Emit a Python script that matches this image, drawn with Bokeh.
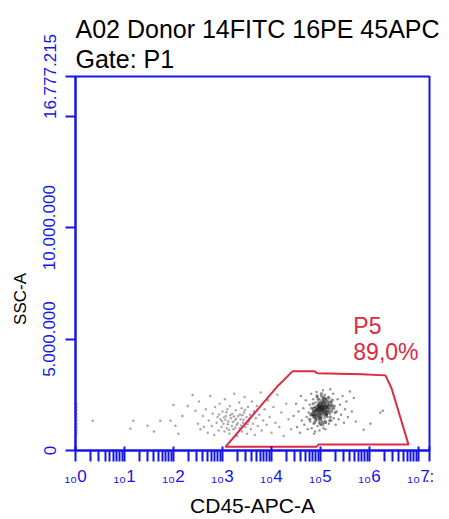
from bokeh.plotting import figure
from bokeh.models import FixedTicker, Label, Range1d, Title
from bokeh.embed import file_html
from bokeh.resources import INLINE

# ---------------- texts ----------------
title_line1 = "A02 Donor 14FITC 16PE 45APC"
title_line2 = "Gate: P1"
x_label = "CD45-APC-A"
y_label = "SSC-A"
gate_name = "P5"
gate_pct = "89,0%"

# ---------------- axes ----------------
x_min, x_max = 1, 16777215
y_min, y_max = 0, 16777215
y_tick_values = [0, 5000000, 10000000, 15000000, 16777215]
y_tick_labels = ["0", "5.000.000", "10.000.000", "", "16.777.215"]
x_tick_values = [1, 10, 100, 1000, 10000, 100000, 1000000, 10000000, 16777215]
x_tick_labels = ["\u2081\u20800", "\u2081\u20801", "\u2081\u20802", "\u2081\u20803", "\u2081\u20804",
                 "\u2081\u20805", "\u2081\u20806", "\u2081\u20807", ".:"]

# ---------------- gate P5 polygon ----------------
gate_cd45 = [1150, 13900, 26800, 75400, 86900, 687000, 2120000, 2810000, 6250000, 91000, 82800]
gate_ssc = [164000, 2930000, 3550000, 3550000, 3460000, 3420000, 3370000, 2800000, 266000, 266000, 164000]

# ---------------- events (CD45 in decades, SSC in millions) ----------------
axis_dec = [0.02] * 10
axis_ssc = [0.75, 0.9, 1.05, 1.2, 1.35, 1.5, 1.65, 1.8, 1.95, 2.1]

far_dec = [0.35, 1.12, 1.18, 1.47, 1.73, 1.94, 2.04, 2.00, 2.29, 2.39, 2.18, 1.60, 2.10]
far_ssc = [1.33, 0.98, 1.33, 1.11, 1.33, 1.33, 1.11, 2.04, 2.00, 2.49, 1.55, 0.85, 0.75]

left_dec = [2.45, 2.50, 2.55, 2.52, 2.60, 2.62, 2.66, 2.70, 2.72, 2.75, 2.78, 2.80, 2.83, 2.85, 2.88,
            2.90, 2.92, 2.94, 2.96, 2.98, 3.00, 3.02, 3.04, 3.05, 3.07, 3.09, 3.10, 3.12, 3.14, 3.15,
            3.17, 3.19, 3.20, 3.22, 3.24, 3.25, 3.27, 3.29, 3.30, 3.32, 3.34, 3.35, 3.37, 3.39, 3.40,
            3.42, 3.44, 3.45, 3.47, 3.49, 3.50, 3.52, 3.54, 3.56, 3.58, 3.60, 3.62, 3.64, 3.66, 3.68,
            3.70, 3.72, 3.75, 3.78, 3.80, 3.83, 3.86, 3.90, 3.93, 3.96, 4.00, 4.04, 4.08, 4.12, 4.16,
            4.20, 4.25, 4.30, 4.35, 4.40,
            2.93, 2.99, 3.03, 3.08, 3.11, 3.16, 3.21, 3.23, 3.28, 3.31, 3.36, 3.38, 3.43, 3.46, 3.51,
            3.55, 3.13, 3.26, 3.41, 3.06]
left_ssc = [1.78, 1.20, 0.95, 2.20, 1.55, 1.05, 1.85, 0.80, 1.35, 2.45, 1.10, 1.65, 0.70, 1.95, 1.25,
            1.50, 0.90, 2.10, 1.40, 1.05, 1.75, 1.20, 0.85, 2.30, 1.55, 1.00, 1.85, 1.30, 0.75, 2.00,
            1.45, 1.10, 1.65, 0.95, 2.55, 1.35, 1.80, 1.15, 0.65, 1.55, 2.15, 1.00, 1.40, 1.90, 0.85,
            1.25, 1.70, 2.40, 1.05, 1.50, 0.75, 1.95, 1.30, 1.60, 0.95, 2.20, 1.20, 1.75, 0.70, 1.45,
            2.00, 1.10, 1.60, 2.60, 0.90, 1.35, 1.85, 1.15, 2.25, 1.50, 0.80, 1.95, 1.25, 2.50, 1.05,
            1.70, 0.65, 2.10, 1.40, 0.95,
            1.62, 1.32, 1.48, 1.72, 1.18, 1.58, 1.28, 1.52, 1.42, 1.22, 1.62, 1.12, 1.38, 1.82, 1.18,
            1.42, 0.92, 1.02, 1.58, 1.38]

halo_dec = [4.45, 4.50, 4.52, 4.55, 4.58, 4.60, 4.62, 4.65, 4.67, 4.70, 4.72, 4.74, 4.76, 4.78, 4.79,
            4.81, 4.82, 4.84, 4.85, 4.86, 4.88, 4.89, 4.90, 4.91, 4.93, 4.94, 4.95, 4.97, 4.98, 5.00,
            5.01, 5.03, 5.05, 5.06, 5.08, 5.09, 5.11, 5.12, 5.14, 5.16, 5.17, 5.19, 5.21, 5.22, 5.24,
            5.26, 5.27, 5.29, 5.31, 5.33, 5.35, 5.37, 5.40, 5.42, 5.45, 5.48, 5.50, 5.53, 5.56, 5.60,
            5.64, 5.68, 5.72, 4.98, 5.10, 4.92, 5.05, 5.20, 4.87,
            5.88, 6.22, 6.27, 6.02]
halo_ssc = [1.55, 2.10, 1.05, 1.75, 0.80, 2.45, 1.35, 1.90, 1.15, 2.25, 1.50, 0.95, 1.70, 2.05, 1.30,
            2.55, 1.00, 1.60, 2.30, 1.20, 1.95, 0.85, 2.15, 1.40, 2.40, 1.10, 2.05, 1.25, 2.30, 1.15,
            2.45, 1.30, 2.35, 1.00, 1.45, 2.50, 1.25, 2.30, 1.50, 2.40, 1.20, 1.65, 2.20, 1.35, 1.85,
            2.55, 1.45, 2.00, 1.15, 1.75, 2.30, 1.40, 2.05, 1.60, 2.45, 1.25, 1.85, 2.20, 1.50, 2.65,
            1.75, 2.35, 1.30, 0.90, 0.95, 2.62, 2.70, 2.75, 0.75,
            0.93, 1.69, 1.78, 1.20]

mid_dec = [4.80, 4.85, 4.90, 4.95, 5.00, 5.05, 5.10, 5.15, 5.20, 5.25, 4.82, 4.88, 4.93, 4.99, 5.04,
           5.09, 5.14, 5.19, 5.24, 5.30, 4.78, 4.86, 4.97, 5.07, 5.17, 5.27, 4.91, 5.02, 5.12, 5.22]
mid_ssc = [1.60, 2.10, 1.35, 2.30, 1.20, 2.40, 1.30, 2.20, 1.50, 2.00, 1.90, 1.25, 2.45, 1.45, 1.15,
           2.35, 1.95, 1.35, 2.25, 1.70, 1.40, 1.75, 2.15, 1.25, 2.35, 1.90, 1.80, 2.55, 1.60, 1.75]

core_dec = [5.00, 5.05, 4.95, 5.10, 4.98, 5.02, 5.08, 4.92, 5.12, 5.06, 4.96, 5.00, 5.15, 4.88, 5.04,
            4.90, 5.10, 5.18, 4.85, 5.00, 5.03, 4.97, 5.07, 4.94, 5.01, 5.13, 4.87, 5.09, 4.99, 5.20]
core_ssc = [1.90, 1.85, 1.80, 1.95, 2.00, 1.70, 1.75, 1.70, 2.05, 2.10, 1.60, 1.55, 1.80, 1.85, 2.20,
            1.50, 1.60, 1.95, 1.65, 2.05, 1.95, 1.88, 1.92, 1.95, 1.78, 1.70, 1.55, 2.25, 1.40, 2.10]

BLUE = "#1515e6"
RED = "#dc2a40"
FONT = "Liberation Sans"


def to_xy(decs, mios):
    return [10 ** d for d in decs], [m * 1e6 for m in mios]


p = figure(width=449, height=519, x_axis_type="log",
           x_range=Range1d(x_min, x_max), y_range=Range1d(y_min, y_max),
           output_backend="svg", toolbar_location=None,
           min_border_left=75, min_border_right=20, min_border_top=76, min_border_bottom=66)
p.background_fill_color = "white"
p.border_fill_color = "white"
p.grid.visible = False
p.outline_line_color = BLUE
p.outline_line_width = 2

# ---- title (two lines) ----
p.add_layout(Title(text=title_line2, align="left", text_font=FONT, text_font_size="25px",
                   text_font_style="normal", text_color="black", standoff=8), "above")
p.add_layout(Title(text=title_line1, align="left", text_font=FONT, text_font_size="25px",
                   text_font_style="normal", text_color="black", standoff=-9), "above")

# ---- events ----
for decs, mios, size, color, alpha in [
    (axis_dec, axis_ssc, 2.5, "#8c8c8c", 0.8),
    (far_dec, far_ssc, 2.5, "#8c8c8c", 0.8),
    (left_dec, left_ssc, 2.5, "#8c8c8c", 0.75),
    (halo_dec, halo_ssc, 2.5, "#7a7a7a", 0.8),
    (mid_dec, mid_ssc, 3.5, "#4a4a4a", 0.6),
    (core_dec, core_ssc, 5, "#1a1a1a", 0.5),
]:
    xs, ys = to_xy(decs, mios)
    p.scatter(xs, ys, size=size, marker="circle", fill_color=color, line_color=None, fill_alpha=alpha)

# ---- gate ----
p.patch(gate_cd45, gate_ssc, fill_color=None, line_color=RED, line_width=2)
p.add_layout(Label(x=10 ** 5.67, y=5.59e6, text=gate_name, text_color=RED, text_font=FONT,
                   text_font_size="23px", text_baseline="alphabetic"))
p.add_layout(Label(x=10 ** 5.67, y=4.44e6, text=gate_pct, text_color=RED, text_font=FONT,
                   text_font_size="23px", text_baseline="alphabetic"))

# ---- y axis ----
ya = p.yaxis[0]
ya.ticker = FixedTicker(ticks=y_tick_values)
ya.major_label_overrides = {v: t for v, t in zip(y_tick_values, y_tick_labels)}
ya.major_label_orientation = "vertical"
ya.major_label_text_color = BLUE
ya.major_label_text_font = FONT
ya.major_label_text_font_size = "17px"
ya.major_label_standoff = 10
ya.axis_line_color = BLUE
ya.axis_line_width = 2
ya.major_tick_line_color = BLUE
ya.major_tick_line_width = 2
ya.major_tick_in = 0
ya.major_tick_out = 10
ya.minor_tick_out = 0
ya.minor_tick_in = 0
ya.axis_label = y_label + "\u00a0" * 15
ya.axis_label_text_font = FONT
ya.axis_label_text_font_style = "normal"
ya.axis_label_text_font_size = "17px"
ya.axis_label_text_color = "black"
ya.axis_label_standoff = 11

# ---- x axis ----
xa = p.xaxis[0]
minor = [m * 10 ** k for k in range(7) for m in range(2, 10)]
xa.ticker = FixedTicker(ticks=x_tick_values, minor_ticks=minor)
xa.major_label_overrides = {v: t for v, t in zip(x_tick_values, x_tick_labels)}
xa.major_label_text_color = BLUE
xa.major_label_text_font = FONT
xa.major_label_text_font_size = "17px"
xa.major_label_standoff = 5
xa.axis_line_color = BLUE
xa.axis_line_width = 2
xa.major_tick_line_color = BLUE
xa.major_tick_line_width = 2
xa.minor_tick_line_color = BLUE
xa.minor_tick_line_width = 2
xa.major_tick_in = 4
xa.major_tick_out = 11
xa.minor_tick_in = 0
xa.minor_tick_out = 11
xa.axis_label = x_label
xa.axis_label_text_font = FONT
xa.axis_label_text_font_style = "normal"
xa.axis_label_text_font_size = "21px"
xa.axis_label_text_color = "black"
xa.axis_label_standoff = 5

open("out.html", "w").write(file_html(p, INLINE))
